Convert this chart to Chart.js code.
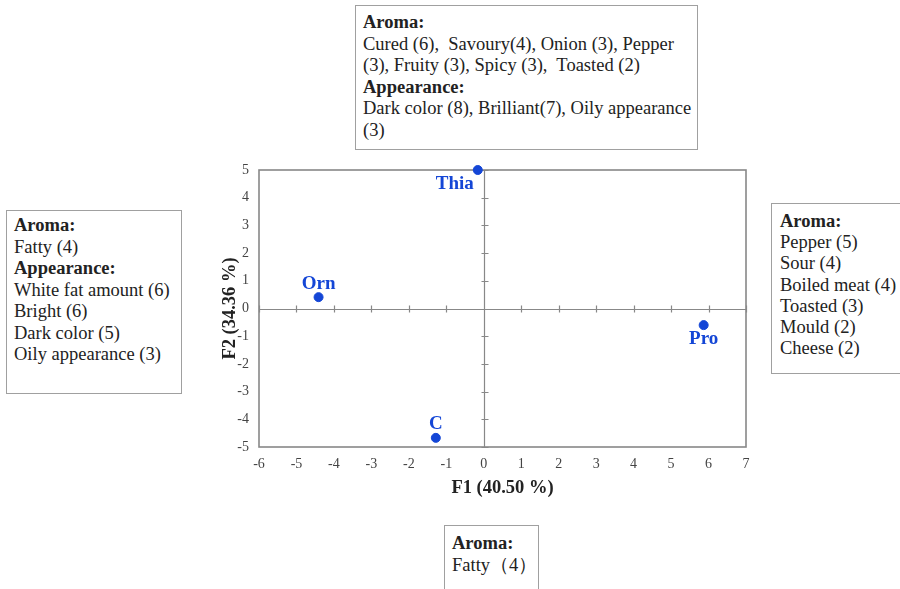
<!DOCTYPE html>
<html lang="en">
<head>
<meta charset="UTF-8">
<title>PCA biplot</title>
<script src="https://cdn.jsdelivr.net/npm/chart.js"></script>
<style>
  body { margin: 0; width: 900px; height: 589px; position: relative; overflow: hidden; background: #fff;
         font-family: "Liberation Serif", "Times New Roman", serif; color: #222; }
  #wrap { position: absolute; left: 0; top: 0; width: 900px; height: 589px; }
  .box { position: absolute; border: 1px solid #a0a0a0; background: #fff; font-size: 18.5px; line-height: 21.5px;
         padding: 5px 7px; box-sizing: border-box; white-space: nowrap; }
  .box b { font-weight: bold; }
</style>
</head>
<body>
<div id="wrap"><canvas id="myChart" width="900" height="589"></canvas></div>

<div class="box" style="left:355px; top:5px; width:343px; height:145px; padding-top:6px;">
  <b>Aroma:</b><br>Cured (6),&nbsp; Savoury(4), Onion (3), Pepper<br>(3), Fruity (3), Spicy (3),&nbsp; Toasted (2)<br>
  <b>Appearance:</b><br>Dark color (8), Brilliant(7), Oily appearance<br>(3)
</div>
<div class="box" style="left:6px; top:210px; width:176px; height:184px; padding-top:4px;">
  <b>Aroma:</b><br>Fatty (4)<br><b>Appearance:</b><br>White fat amount (6)<br>Bright (6)<br>Dark color (5)<br>Oily appearance (3)
</div>
<div class="box" style="left:771px; top:203px; width:140px; height:171px; padding-top:7px; padding-left:8px; line-height:21.2px;">
  <b>Aroma:</b><br>Pepper (5)<br>Sour (4)<br>Boiled meat (4)<br>Toasted (3)<br>Mould (2)<br>Cheese (2)
</div>
<div class="box" style="left:444px; top:525px; width:95px; height:80px; padding-top:7px;">
  <b>Aroma:</b><br>Fatty（4）
</div>

<script>
  // samples and their PCA scores
  let samples = ['Thia', 'Orn', 'Pro', 'C'];
  let f1Scores = [-0.16, -4.41, 5.87, -1.28];
  let f2Scores = [5.0, 0.41, -0.6, -4.67];

  let xTicks = [-6, -5, -4, -3, -2, -1, 0, 1, 2, 3, 4, 5, 6, 7];
  let yTicks = [-5, -4, -3, -2, -1, 0, 1, 2, 3, 4, 5];

  let blue = '#1446d6';
  let axisGray = '#888888';

  // where each sample name sits relative to its point
  let labelPlace = { Thia: 'belowLeft', Orn: 'above', Pro: 'below', C: 'above' };

  let framePlugin = {
    id: 'frame',
    beforeDatasetsDraw(chart) {
      let ctx = chart.ctx;
      let a = chart.chartArea;
      let xs = chart.scales.x, ys = chart.scales.y;
      let x0 = Math.round(xs.getPixelForValue(0)) + 0.5;
      let y0 = Math.round(ys.getPixelForValue(0)) + 0.5;
      ctx.save();
      ctx.strokeStyle = axisGray;
      ctx.lineWidth = 1.6;
      ctx.strokeRect(a.left, a.top, a.right - a.left, a.bottom - a.top);
      ctx.lineWidth = 1.2;
      ctx.beginPath();
      ctx.moveTo(a.left, y0);
      ctx.lineTo(a.right, y0);
      ctx.moveTo(x0, a.top);
      ctx.lineTo(x0, a.bottom);
      // tick marks on the zero lines
      xTicks.forEach(v => {
        let px = Math.round(xs.getPixelForValue(v)) + 0.5;
        ctx.moveTo(px, y0 - 4);
        ctx.lineTo(px, y0 + 3);
      });
      yTicks.forEach(v => {
        let py = Math.round(ys.getPixelForValue(v)) + 0.5;
        ctx.moveTo(x0 - 3, py);
        ctx.lineTo(x0 + 4, py);
      });
      ctx.stroke();
      ctx.restore();
    },
    afterDatasetsDraw(chart) {
      let ctx = chart.ctx;
      let meta = chart.getDatasetMeta(0);
      ctx.save();
      ctx.fillStyle = blue;
      ctx.font = 'bold 19px "Liberation Serif", serif';
      meta.data.forEach((pt, i) => {
        let name = samples[i];
        let place = labelPlace[name];
        if (place === 'belowLeft') {
          ctx.textAlign = 'right';
          ctx.textBaseline = 'top';
          ctx.fillText(name, pt.x - 4, pt.y + 5);
        } else if (place === 'above') {
          ctx.textAlign = 'center';
          ctx.textBaseline = 'bottom';
          ctx.fillText(name, pt.x, pt.y - 4);
        } else {
          ctx.textAlign = 'center';
          ctx.textBaseline = 'top';
          ctx.fillText(name, pt.x, pt.y + 4);
        }
      });
      ctx.restore();
    }
  };

  let ctx = document.getElementById('myChart').getContext('2d');
  new Chart(ctx, {
    type: 'scatter',
    data: {
      datasets: [{
        label: 'Samples',
        data: samples.map((s, i) => ({ x: f1Scores[i], y: f2Scores[i] })),
        backgroundColor: blue,
        borderColor: blue,
        pointRadius: 4.5,
        pointHoverRadius: 4.5,
        clip: false
      }]
    },
    options: {
      responsive: false,
      animation: false,
      events: [],
      layout: { padding: { left: 219, right: 154, top: 170, bottom: 90 } },
      plugins: { legend: { display: false }, tooltip: { enabled: false } },
      scales: {
        x: {
          type: 'linear',
          min: xTicks[0], max: xTicks[xTicks.length - 1],
          afterBuildTicks: s => { s.ticks = xTicks.map(v => ({ value: v })); },
          afterFit: s => { s.height = 52; },
          grid: { display: false, drawTicks: false },
          border: { display: false },
          ticks: { color: '#444', padding: 9, font: { family: '"Liberation Serif", serif', size: 14 } },
          title: { display: true, text: 'F1 (40.50 %)', color: '#222', padding: 0,
                   font: { family: '"Liberation Serif", serif', size: 18.5, weight: 'bold' } }
        },
        y: {
          type: 'linear',
          min: yTicks[0], max: yTicks[yTicks.length - 1],
          afterBuildTicks: s => { s.ticks = yTicks.map(v => ({ value: v })); },
          afterFit: s => { s.width = 40; },
          grid: { display: false, drawTicks: false },
          border: { display: false },
          ticks: { color: '#444', padding: 10, font: { family: '"Liberation Serif", serif', size: 14 } },
          title: { display: true, text: 'F2 (34.36 %)', color: '#222', padding: 0,
                   font: { family: '"Liberation Serif", serif', size: 18.5, weight: 'bold' } }
        }
      }
    },
    plugins: [framePlugin]
  });
</script>
</body>
</html>
